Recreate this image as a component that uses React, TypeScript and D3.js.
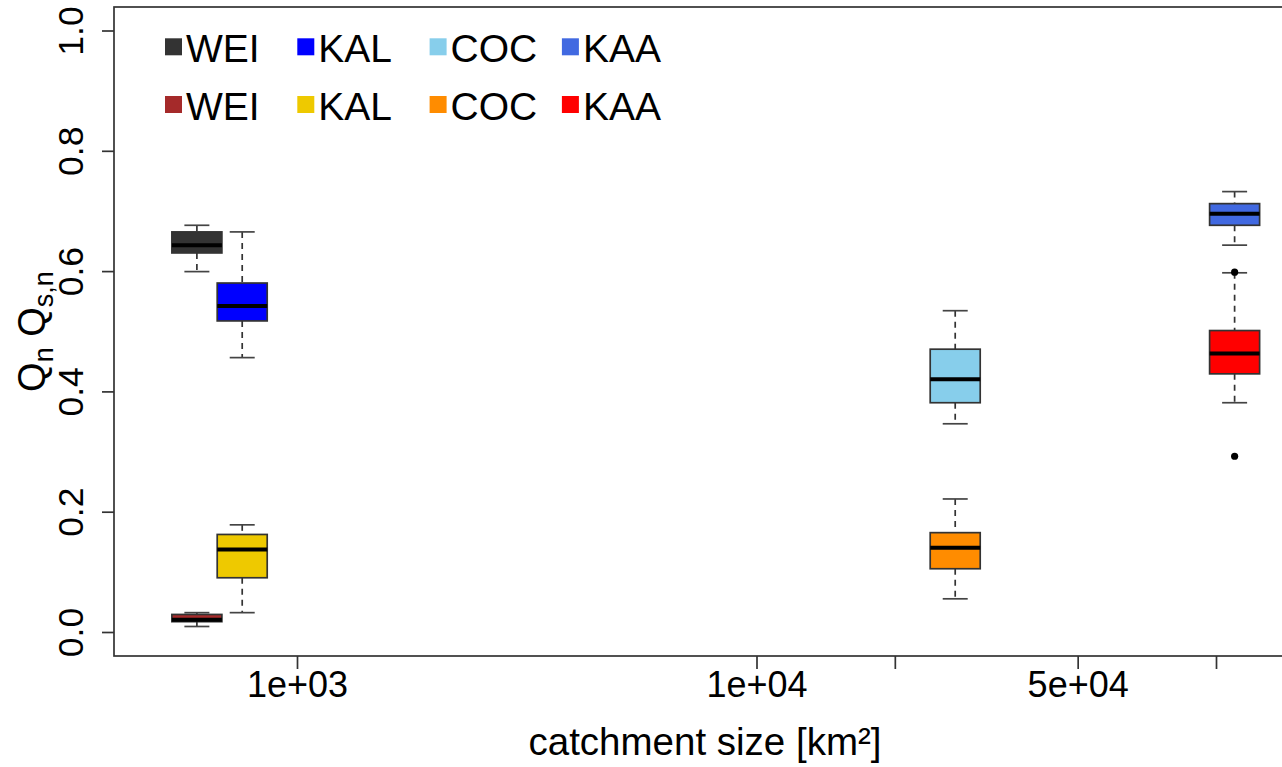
import React from "react";
import * as d3 from "d3";

// ---- data ----
const stations = ["WEI", "KAL", "COC", "KAA"];
const catchmentArea = [604, 758, 27000, 109500]; // km², box positions
const xTickValues = [1e3, 1e4, 2e4, 5e4, 1e5];
const xTickLabels = ["1e+03", "1e+04", "", "5e+04", ""];
const yTickValues = [0, 0.2, 0.4, 0.6, 0.8, 1.0];
const yTickLabels = ["0.0", "0.2", "0.4", "0.6", "0.8", "1.0"];

// series 1 (Q_n)
const s1Colors = ["#333333", "#0000FF", "#87CEEB", "#4169E1"];
const s1Low = [0.6, 0.457, 0.347, 0.644];
const s1Q1 = [0.631, 0.518, 0.382, 0.677];
const s1Med = [0.644, 0.543, 0.421, 0.696];
const s1Q3 = [0.666, 0.581, 0.471, 0.713];
const s1High = [0.677, 0.666, 0.535, 0.733];
const s1Out: number[][] = [[], [], [], []];

// series 2 (Q_s,n)
const s2Colors = ["#A52A2A", "#EEC900", "#FF8C00", "#FF0000"];
const s2Low = [0.01, 0.033, 0.056, 0.382];
const s2Q1 = [0.018, 0.091, 0.106, 0.43];
const s2Med = [0.021, 0.138, 0.141, 0.464];
const s2Q3 = [0.03, 0.163, 0.166, 0.502];
const s2High = [0.033, 0.179, 0.222, 0.598];
const s2Out: number[][] = [[], [], [], [0.599, 0.293]];

const FONT = "'Liberation Sans', Arial, Helvetica, sans-serif";

export default function App() {
  const W = 1282;
  const H = 767;
  const frame = { left: 114, right: 1300, top: 7, bottom: 656 };
  const x = d3.scaleLog().domain([1e3, 1e4]).range([297.5, 757]);
  const y = d3.scaleLinear().domain([0, 1]).range([632.5, 31]);
  const boxW = 50;
  const capW = 25;

  const series = [
    { colors: s1Colors, low: s1Low, q1: s1Q1, med: s1Med, q3: s1Q3, high: s1High, out: s1Out },
    { colors: s2Colors, low: s2Low, q1: s2Q1, med: s2Med, q3: s2Q3, high: s2High, out: s2Out },
  ];

  const boxes: React.ReactNode[] = [];
  series.forEach((s, si) => {
    stations.forEach((st, i) => {
      const cx = x(catchmentArea[i]);
      const k = `${si}-${i}`;
      boxes.push(
        <g key={k}>
          <line x1={cx} x2={cx} y1={y(s.high[i])} y2={y(s.q3[i])} stroke="#333" strokeWidth={1.7} strokeDasharray="6,5" />
          <line x1={cx} x2={cx} y1={y(s.q1[i])} y2={y(s.low[i])} stroke="#333" strokeWidth={1.7} strokeDasharray="6,5" />
          <line x1={cx - capW / 2} x2={cx + capW / 2} y1={y(s.high[i])} y2={y(s.high[i])} stroke="#444" strokeWidth={1.7} />
          <line x1={cx - capW / 2} x2={cx + capW / 2} y1={y(s.low[i])} y2={y(s.low[i])} stroke="#444" strokeWidth={1.7} />
          <rect x={cx - boxW / 2} y={y(s.q3[i])} width={boxW} height={y(s.q1[i]) - y(s.q3[i])} fill={s.colors[i]} stroke="#333" strokeWidth={1.7} />
          <line x1={cx - boxW / 2} x2={cx + boxW / 2} y1={y(s.med[i])} y2={y(s.med[i])} stroke="#000" strokeWidth={4} />
          {s.out[i].map((o, j) => (
            <circle key={j} cx={cx} cy={y(o)} r={3.6} fill="#000" />
          ))}
        </g>
      );
    });
  });

  const legendX0 = 165;
  const legendDX = 132.3;
  const legendRows = [
    { colors: s1Colors, top: 38.3, base: 62.3 },
    { colors: s2Colors, top: 96, base: 119.8 },
  ];

  return (
    <svg width={W} height={H} style={{ position: "absolute", left: 0, top: 0, background: "#fff" }} fontFamily={FONT}>
      <rect x={0} y={0} width={W} height={H} fill="#fff" />
      {/* frame */}
      <rect x={frame.left} y={frame.top} width={frame.right - frame.left} height={frame.bottom - frame.top} fill="none" stroke="#333" strokeWidth={1.7} />
      {/* y axis */}
      {yTickValues.map((v, i) => (
        <g key={`yt${i}`}>
          <line x1={102} x2={frame.left} y1={y(v)} y2={y(v)} stroke="#333" strokeWidth={1.7} />
          <text transform={`translate(83,${y(v)}) rotate(-90)`} textAnchor="middle" fontSize={35.5} fill="#000">
            {yTickLabels[i]}
          </text>
        </g>
      ))}
      {/* x axis */}
      {xTickValues.map((v, i) => (
        <g key={`xt${i}`}>
          <line x1={x(v)} x2={x(v)} y1={frame.bottom} y2={frame.bottom + 13} stroke="#333" strokeWidth={1.7} />
          {xTickLabels[i] && (
            <text x={x(v)} y={697} textAnchor="middle" fontSize={36} fill="#000">
              {xTickLabels[i]}
            </text>
          )}
        </g>
      ))}
      <text x={705} y={755} textAnchor="middle" fontSize={38.5} fill="#000">
        catchment size [km²]
      </text>
      {/* y title */}
      <text transform={`translate(45,${(frame.top + frame.bottom) / 2}) rotate(-90)`} textAnchor="middle" fontSize={38} fill="#000">
        <tspan>Q</tspan>
        <tspan fontSize={27} dy={8}>n</tspan>
        <tspan dy={-8}> Q</tspan>
        <tspan fontSize={27} dy={8}>s,n</tspan>
      </text>
      {boxes}
      {/* legend */}
      {legendRows.map((r, ri) =>
        stations.map((st, i) => (
          <g key={`lg${ri}-${i}`}>
            <rect x={legendX0 + i * legendDX} y={r.top} width={17} height={17} fill={r.colors[i]} />
            <text x={legendX0 + i * legendDX + 21} y={r.base} fontSize={39} fill="#000">
              {st}
            </text>
          </g>
        ))
      )}
    </svg>
  );
}
